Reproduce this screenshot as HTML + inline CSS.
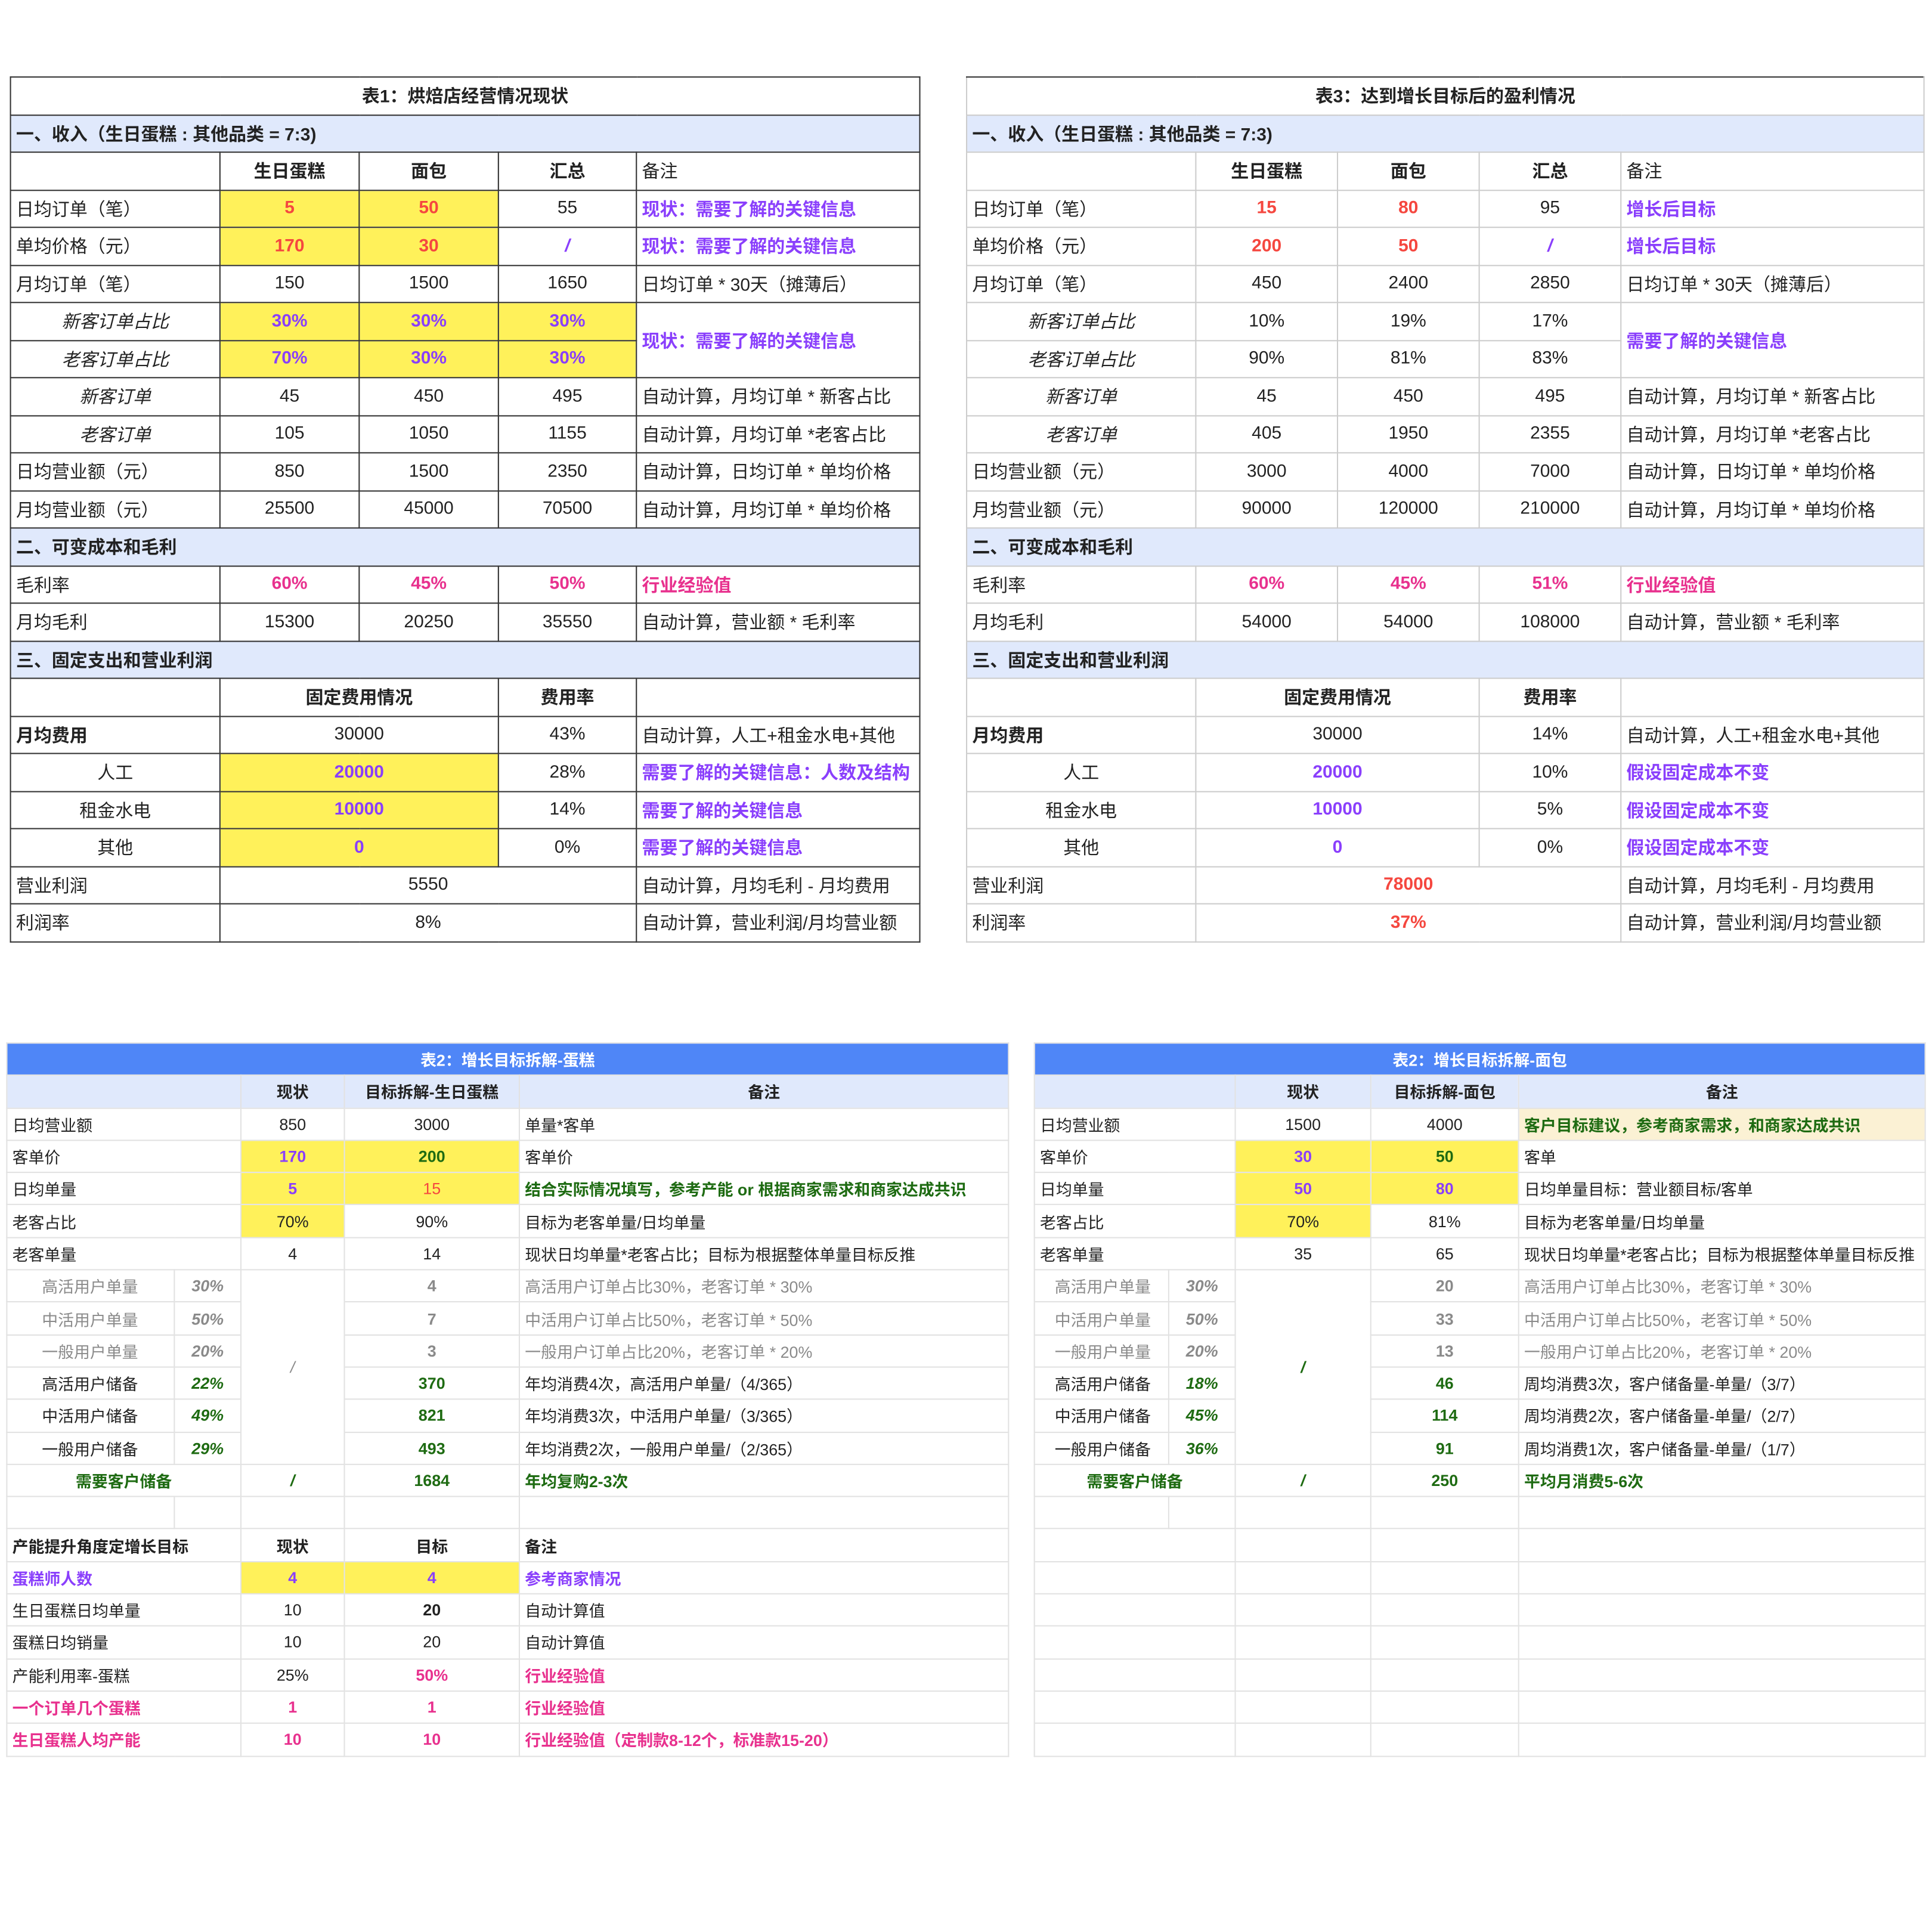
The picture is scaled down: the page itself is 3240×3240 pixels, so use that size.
<!DOCTYPE html>
<html><head><meta charset="utf-8">
<style>
html,body{margin:0;padding:0;background:#fff;}
body{width:3240px;height:3240px;overflow:hidden;position:relative;}
#w{position:absolute;left:0;top:0;width:1568px;height:1568px;transform:scale(2.06633);transform-origin:0 0;font-family:"Liberation Sans","Noto Sans CJK SC",sans-serif;color:#222;}
table{position:absolute;border-collapse:collapse;table-layout:fixed;}
td{padding:0 4px;white-space:nowrap;overflow:hidden;}
.t1 td{border:1.3px solid #333;font-size:14.5px;height:29.5px;}
.t3 td{border:1px solid #ccc;font-size:14.5px;height:29.5px;}
.t3 tr:first-child td{border-top:1.5px solid #333;}
.t2 td{border:1px solid #e2e2e2;font-size:13px;height:25.3px;}
.c{text-align:center}.b{font-weight:bold}.i{font-style:italic}
.y{background:#fff15a}.h{background:#e0e9fc}.cr{background:#fbf1d4}
.pu{color:#8a3ffc;font-weight:bold}.rd{color:#f5473f;font-weight:bold}.pk{color:#e8318e;font-weight:bold}
.gr{color:#1e6b12;font-weight:bold}.g{color:#8a8a8a}
.tt{background:#4f86f7;color:#fff;font-weight:bold;text-align:center}
</style></head><body><div id="w">

<table class="t1" style="left:8px;top:62px;width:738px">
<colgroup><col style="width:170px"><col style="width:113px"><col style="width:113px"><col style="width:112px"><col style="width:230px"></colgroup>
<tr><td colspan="5" class="c b">表1：烘焙店经营情况现状</td></tr>
<tr><td colspan="5" class="h b">一、收入（生日蛋糕 : 其他品类 = 7:3)</td></tr>
<tr><td></td><td class="c b">生日蛋糕</td><td class="c b">面包</td><td class="c b">汇总</td><td>备注</td></tr>
<tr><td>日均订单（笔）</td><td class="c y rd">5</td><td class="c y rd">50</td><td class="c">55</td><td class="pu">现状：需要了解的关键信息</td></tr>
<tr><td>单均价格（元）</td><td class="c y rd">170</td><td class="c y rd">30</td><td class="c pu i">/</td><td class="pu">现状：需要了解的关键信息</td></tr>
<tr><td>月均订单（笔）</td><td class="c">150</td><td class="c">1500</td><td class="c">1650</td><td>日均订单 * 30天（摊薄后）</td></tr>
<tr><td class="c i">新客订单占比</td><td class="c y pu">30%</td><td class="c y pu">30%</td><td class="c y pu">30%</td><td rowspan="2" class="pu">现状：需要了解的关键信息</td></tr>
<tr><td class="c i">老客订单占比</td><td class="c y pu">70%</td><td class="c y pu">30%</td><td class="c y pu">30%</td></tr>
<tr><td class="c i">新客订单</td><td class="c">45</td><td class="c">450</td><td class="c">495</td><td>自动计算，月均订单 * 新客占比</td></tr>
<tr><td class="c i">老客订单</td><td class="c">105</td><td class="c">1050</td><td class="c">1155</td><td>自动计算，月均订单 *老客占比</td></tr>
<tr><td>日均营业额（元）</td><td class="c">850</td><td class="c">1500</td><td class="c">2350</td><td>自动计算，日均订单 * 单均价格</td></tr>
<tr><td>月均营业额（元）</td><td class="c">25500</td><td class="c">45000</td><td class="c">70500</td><td>自动计算，月均订单 * 单均价格</td></tr>
<tr><td colspan="5" class="h b">二、可变成本和毛利</td></tr>
<tr><td>毛利率</td><td class="c pk">60%</td><td class="c pk">45%</td><td class="c pk">50%</td><td class="pk">行业经验值</td></tr>
<tr><td>月均毛利</td><td class="c">15300</td><td class="c">20250</td><td class="c">35550</td><td>自动计算，营业额 * 毛利率</td></tr>
<tr><td colspan="5" class="h b">三、固定支出和营业利润</td></tr>
<tr><td></td><td colspan="2" class="c b">固定费用情况</td><td class="c b">费用率</td><td></td></tr>
<tr><td class="b">月均费用</td><td colspan="2" class="c">30000</td><td class="c">43%</td><td>自动计算，人工+租金水电+其他</td></tr>
<tr><td class="c">人工</td><td colspan="2" class="c y pu">20000</td><td class="c">28%</td><td class="pu">需要了解的关键信息：人数及结构</td></tr>
<tr><td class="c">租金水电</td><td colspan="2" class="c y pu">10000</td><td class="c">14%</td><td class="pu">需要了解的关键信息</td></tr>
<tr><td class="c">其他</td><td colspan="2" class="c y pu">0</td><td class="c">0%</td><td class="pu">需要了解的关键信息</td></tr>
<tr><td>营业利润</td><td colspan="3" class="c">5550</td><td>自动计算，月均毛利 - 月均费用</td></tr>
<tr><td>利润率</td><td colspan="3" class="c">8%</td><td>自动计算，营业利润/月均营业额</td></tr>
</table>

<table class="t3" style="left:784px;top:62px;width:777px">
<colgroup><col style="width:186px"><col style="width:115px"><col style="width:115px"><col style="width:115px"><col style="width:246px"></colgroup>
<tr><td colspan="5" class="c b">表3：达到增长目标后的盈利情况</td></tr>
<tr><td colspan="5" class="h b">一、收入（生日蛋糕 : 其他品类 = 7:3)</td></tr>
<tr><td></td><td class="c b">生日蛋糕</td><td class="c b">面包</td><td class="c b">汇总</td><td>备注</td></tr>
<tr><td>日均订单（笔）</td><td class="c rd">15</td><td class="c rd">80</td><td class="c">95</td><td class="pu">增长后目标</td></tr>
<tr><td>单均价格（元）</td><td class="c rd">200</td><td class="c rd">50</td><td class="c pu i">/</td><td class="pu">增长后目标</td></tr>
<tr><td>月均订单（笔）</td><td class="c">450</td><td class="c">2400</td><td class="c">2850</td><td>日均订单 * 30天（摊薄后）</td></tr>
<tr><td class="c i">新客订单占比</td><td class="c">10%</td><td class="c">19%</td><td class="c">17%</td><td rowspan="2" class="pu">需要了解的关键信息</td></tr>
<tr><td class="c i">老客订单占比</td><td class="c">90%</td><td class="c">81%</td><td class="c">83%</td></tr>
<tr><td class="c i">新客订单</td><td class="c">45</td><td class="c">450</td><td class="c">495</td><td>自动计算，月均订单 * 新客占比</td></tr>
<tr><td class="c i">老客订单</td><td class="c">405</td><td class="c">1950</td><td class="c">2355</td><td>自动计算，月均订单 *老客占比</td></tr>
<tr><td>日均营业额（元）</td><td class="c">3000</td><td class="c">4000</td><td class="c">7000</td><td>自动计算，日均订单 * 单均价格</td></tr>
<tr><td>月均营业额（元）</td><td class="c">90000</td><td class="c">120000</td><td class="c">210000</td><td>自动计算，月均订单 * 单均价格</td></tr>
<tr><td colspan="5" class="h b">二、可变成本和毛利</td></tr>
<tr><td>毛利率</td><td class="c pk">60%</td><td class="c pk">45%</td><td class="c pk">51%</td><td class="pk">行业经验值</td></tr>
<tr><td>月均毛利</td><td class="c">54000</td><td class="c">54000</td><td class="c">108000</td><td>自动计算，营业额 * 毛利率</td></tr>
<tr><td colspan="5" class="h b">三、固定支出和营业利润</td></tr>
<tr><td></td><td colspan="2" class="c b">固定费用情况</td><td class="c b">费用率</td><td></td></tr>
<tr><td class="b">月均费用</td><td colspan="2" class="c">30000</td><td class="c">14%</td><td>自动计算，人工+租金水电+其他</td></tr>
<tr><td class="c">人工</td><td colspan="2" class="c pu">20000</td><td class="c">10%</td><td class="pu">假设固定成本不变</td></tr>
<tr><td class="c">租金水电</td><td colspan="2" class="c pu">10000</td><td class="c">5%</td><td class="pu">假设固定成本不变</td></tr>
<tr><td class="c">其他</td><td colspan="2" class="c pu">0</td><td class="c">0%</td><td class="pu">假设固定成本不变</td></tr>
<tr><td>营业利润</td><td colspan="3" class="c rd">78000</td><td>自动计算，月均毛利 - 月均费用</td></tr>
<tr><td>利润率</td><td colspan="3" class="c rd">37%</td><td>自动计算，营业利润/月均营业额</td></tr>
</table>

<table class="t2" style="left:5px;top:846px;width:813px">
<colgroup><col style="width:136px"><col style="width:54px"><col style="width:84px"><col style="width:142px"><col style="width:397px"></colgroup>
<tr><td colspan="5" class="tt">表2：增长目标拆解-蛋糕</td></tr>
<tr><td colspan="2" class="h"></td><td class="h c b">现状</td><td class="h c b">目标拆解-生日蛋糕</td><td class="h c b">备注</td></tr>
<tr><td colspan="2">日均营业额</td><td class="c">850</td><td class="c">3000</td><td>单量*客单</td></tr>
<tr><td colspan="2">客单价</td><td class="c y pu">170</td><td class="c y gr">200</td><td>客单价</td></tr>
<tr><td colspan="2">日均单量</td><td class="c y pu">5</td><td class="c y" style="color:#f5473f">15</td><td class="gr">结合实际情况填写，参考产能 or 根据商家需求和商家达成共识</td></tr>
<tr><td colspan="2">老客占比</td><td class="c y">70%</td><td class="c">90%</td><td>目标为老客单量/日均单量</td></tr>
<tr><td colspan="2">老客单量</td><td class="c">4</td><td class="c">14</td><td>现状日均单量*老客占比；目标为根据整体单量目标反推</td></tr>
<tr><td class="g" style="padding-left:28px">高活用户单量</td><td class="c g b i">30%</td><td rowspan="6" class="c g i">/</td><td class="c g b">4</td><td class="g">高活用户订单占比30%，老客订单 * 30%</td></tr>
<tr><td class="g" style="padding-left:28px">中活用户单量</td><td class="c g b i">50%</td><td class="c g b">7</td><td class="g">中活用户订单占比50%，老客订单 * 50%</td></tr>
<tr><td class="g" style="padding-left:28px">一般用户单量</td><td class="c g b i">20%</td><td class="c g b">3</td><td class="g">一般用户订单占比20%，老客订单 * 20%</td></tr>
<tr><td style="padding-left:28px">高活用户储备</td><td class="c gr i">22%</td><td class="c gr">370</td><td>年均消费4次，高活用户单量/（4/365）</td></tr>
<tr><td style="padding-left:28px">中活用户储备</td><td class="c gr i">49%</td><td class="c gr">821</td><td>年均消费3次，中活用户单量/（3/365）</td></tr>
<tr><td style="padding-left:28px">一般用户储备</td><td class="c gr i">29%</td><td class="c gr">493</td><td>年均消费2次，一般用户单量/（2/365）</td></tr>
<tr><td colspan="2" class="c gr">需要客户储备</td><td class="c gr i">/</td><td class="c gr">1684</td><td class="gr">年均复购2-3次</td></tr>
<tr><td></td><td></td><td></td><td></td><td></td></tr>
<tr><td colspan="2" class="b">产能提升角度定增长目标</td><td class="c b">现状</td><td class="c b">目标</td><td class="b">备注</td></tr>
<tr><td colspan="2" class="pu">蛋糕师人数</td><td class="c y pu">4</td><td class="c y pu">4</td><td class="pu">参考商家情况</td></tr>
<tr><td colspan="2">生日蛋糕日均单量</td><td class="c">10</td><td class="c b">20</td><td>自动计算值</td></tr>
<tr><td colspan="2">蛋糕日均销量</td><td class="c">10</td><td class="c">20</td><td>自动计算值</td></tr>
<tr><td colspan="2">产能利用率-蛋糕</td><td class="c">25%</td><td class="c pk">50%</td><td class="pk">行业经验值</td></tr>
<tr><td colspan="2" class="pk">一个订单几个蛋糕</td><td class="c pk">1</td><td class="c pk">1</td><td class="pk">行业经验值</td></tr>
<tr><td colspan="2" class="pk">生日蛋糕人均产能</td><td class="c pk">10</td><td class="c pk">10</td><td class="pk">行业经验值（定制款8-12个，标准款15-20）</td></tr>
</table>

<table class="t2" style="left:839px;top:846px;width:723px">
<colgroup><col style="width:109px"><col style="width:54px"><col style="width:110px"><col style="width:120px"><col style="width:330px"></colgroup>
<tr><td colspan="5" class="tt">表2：增长目标拆解-面包</td></tr>
<tr><td colspan="2" class="h"></td><td class="h c b">现状</td><td class="h c b">目标拆解-面包</td><td class="h c b">备注</td></tr>
<tr><td colspan="2">日均营业额</td><td class="c">1500</td><td class="c">4000</td><td class="cr gr">客户目标建议，参考商家需求，和商家达成共识</td></tr>
<tr><td colspan="2">客单价</td><td class="c y pu">30</td><td class="c y gr">50</td><td>客单</td></tr>
<tr><td colspan="2">日均单量</td><td class="c y pu">50</td><td class="c y pu">80</td><td>日均单量目标：营业额目标/客单</td></tr>
<tr><td colspan="2">老客占比</td><td class="c y">70%</td><td class="c">81%</td><td>目标为老客单量/日均单量</td></tr>
<tr><td colspan="2">老客单量</td><td class="c">35</td><td class="c">65</td><td>现状日均单量*老客占比；目标为根据整体单量目标反推</td></tr>
<tr><td class="g" style="padding-left:16px">高活用户单量</td><td class="c g b i">30%</td><td rowspan="6" class="c gr i">/</td><td class="c g b">20</td><td class="g">高活用户订单占比30%，老客订单 * 30%</td></tr>
<tr><td class="g" style="padding-left:16px">中活用户单量</td><td class="c g b i">50%</td><td class="c g b">33</td><td class="g">中活用户订单占比50%，老客订单 * 50%</td></tr>
<tr><td class="g" style="padding-left:16px">一般用户单量</td><td class="c g b i">20%</td><td class="c g b">13</td><td class="g">一般用户订单占比20%，老客订单 * 20%</td></tr>
<tr><td style="padding-left:16px">高活用户储备</td><td class="c gr i">18%</td><td class="c gr">46</td><td>周均消费3次，客户储备量-单量/（3/7）</td></tr>
<tr><td style="padding-left:16px">中活用户储备</td><td class="c gr i">45%</td><td class="c gr">114</td><td>周均消费2次，客户储备量-单量/（2/7）</td></tr>
<tr><td style="padding-left:16px">一般用户储备</td><td class="c gr i">36%</td><td class="c gr">91</td><td>周均消费1次，客户储备量-单量/（1/7）</td></tr>
<tr><td colspan="2" class="c gr">需要客户储备</td><td class="c gr i">/</td><td class="c gr">250</td><td class="gr">平均月消费5-6次</td></tr>
<tr><td></td><td></td><td></td><td></td><td></td></tr>
<tr><td colspan="2"></td><td></td><td></td><td></td></tr>
<tr><td colspan="2"></td><td></td><td></td><td></td></tr>
<tr><td colspan="2"></td><td></td><td></td><td></td></tr>
<tr><td colspan="2"></td><td></td><td></td><td></td></tr>
<tr><td colspan="2"></td><td></td><td></td><td></td></tr>
<tr><td colspan="2"></td><td></td><td></td><td></td></tr>
<tr><td colspan="2"></td><td></td><td></td><td></td></tr>
</table>

</div></body></html>
